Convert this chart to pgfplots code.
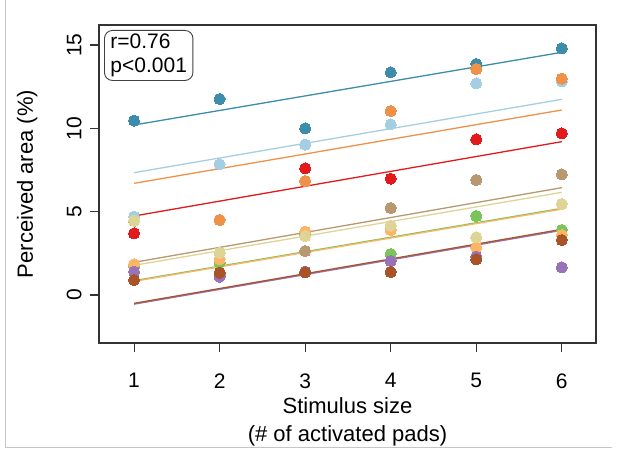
\documentclass[border=0pt]{standalone}
\usepackage{fontspec}
\setmainfont{Liberation Sans}
\usepackage{pgfplots}
\usepackage{pgfplotstable}
\pgfplotsset{compat=1.18}

\definecolor{cteal}{HTML}{3C8CAA}
\definecolor{clblue}{HTML}{A6CEE3}
\definecolor{cred}{HTML}{E31A1C}
\definecolor{corange}{HTML}{F0914A}
\definecolor{ctan}{HTML}{B89870}
\definecolor{cgreen}{HTML}{7AC45A}
\definecolor{clorange}{HTML}{FDB464}
\definecolor{ckhaki}{HTML}{DDD496}
\definecolor{cpurple}{HTML}{9873B7}
\definecolor{cbrown}{HTML}{A85428}

% points per subject (x = number of pads)
\pgfplotstableread{
x    teal   lblue  red   orange tan   green lorange khaki purple brown
1    10.46  4.70   3.70  4.45   1.84  1.70  1.84    4.46  1.40   0.90
2    11.76  7.84   4.50  4.50   1.20  1.94  2.14    2.54  1.10   1.34
3    10.00  9.02   7.60  6.84   2.64  3.60  3.80    3.54  1.40   1.36
4    13.36  10.24  6.98  11.04  5.22  2.46  3.90    4.16  2.04   1.38
5    13.86  12.70  9.34  13.56  6.90  4.74  2.84    3.46  2.30   2.14
6    14.80  12.82  9.70  12.98  7.24  3.90  3.60    5.46  1.66   3.30
}\pts

% fitted lines, end points
\pgfplotstableread{
x    teal   lblue  red   orange tan   green lorange khaki purple brown
1    10.20  7.34   4.74  6.70   1.96  0.86  0.82    1.78  -0.55  -0.50
6    14.56  11.74  9.20  11.10  6.44  5.20  5.15    6.16  3.88   3.94
}\fits

\begin{document}
\begin{tikzpicture}
\useasboundingbox (0,0) rectangle (623bp,451bp);
\draw[gray!45, line width=0.8bp] (5.5bp,451bp) -- (5.5bp,4bp) -- (612bp,4bp);
\begin{axis}[
  at={(99bp,108bp)}, anchor=south west,
  width=497bp, height=318bp, scale only axis,
  xmin=0.59, xmax=6.4, ymin=-2.88, ymax=16.2,
  xtick={1,2,3,4,5,6}, ytick={0,5,10,15},
  tick pos=left, tick align=outside,
  major tick length=9bp,
  axis line style={line width=1.1bp, black!80},
  tick style={line width=1.1bp, black!80},
  font=\fontsize{21bp}{24bp}\selectfont,
  /pgf/number format/assume math mode=true,
  xticklabel style={yshift=-18bp},
  yticklabel style={xshift=-5bp, rotate=90, anchor=south},
  xlabel={Stimulus size\\(\# of activated pads)},
  xlabel style={at={(axis description cs:0.5,0)}, anchor=north,
    yshift=-51bp, align=center, font=\fontsize{22bp}{28bp}\selectfont},
  ylabel={Perceived area (\%)},
  ylabel style={at={(axis description cs:-0.117,0.5)}, anchor=south,
    font=\fontsize{22bp}{26bp}\selectfont},
  clip=false,
]
\pgfplotsinvokeforeach{teal,lblue,red,orange,tan,green,lorange,khaki,purple,brown}{
  \addplot[c#1, line width=1.3bp, no marks] table[x=x, y=#1] {\fits};
}
\pgfplotsinvokeforeach{teal,lblue,red,orange,tan,green,lorange,khaki,purple,brown}{
  \addplot[only marks, mark=*, mark size=5.6bp, color=c#1,
    mark options={fill=c#1, draw=c#1, line width=0pt}] table[x=x, y=#1] {\pts};
}
\node[draw=black!75, line width=0.9bp, rounded corners=8bp,
  anchor=north west, align=left, inner xsep=6bp, inner ysep=3.5bp]
  at ([xshift=5bp, yshift=-5bp]rel axis cs:0,1) {r=0.76\\p<0.001};
\end{axis}
\end{tikzpicture}
\end{document}
